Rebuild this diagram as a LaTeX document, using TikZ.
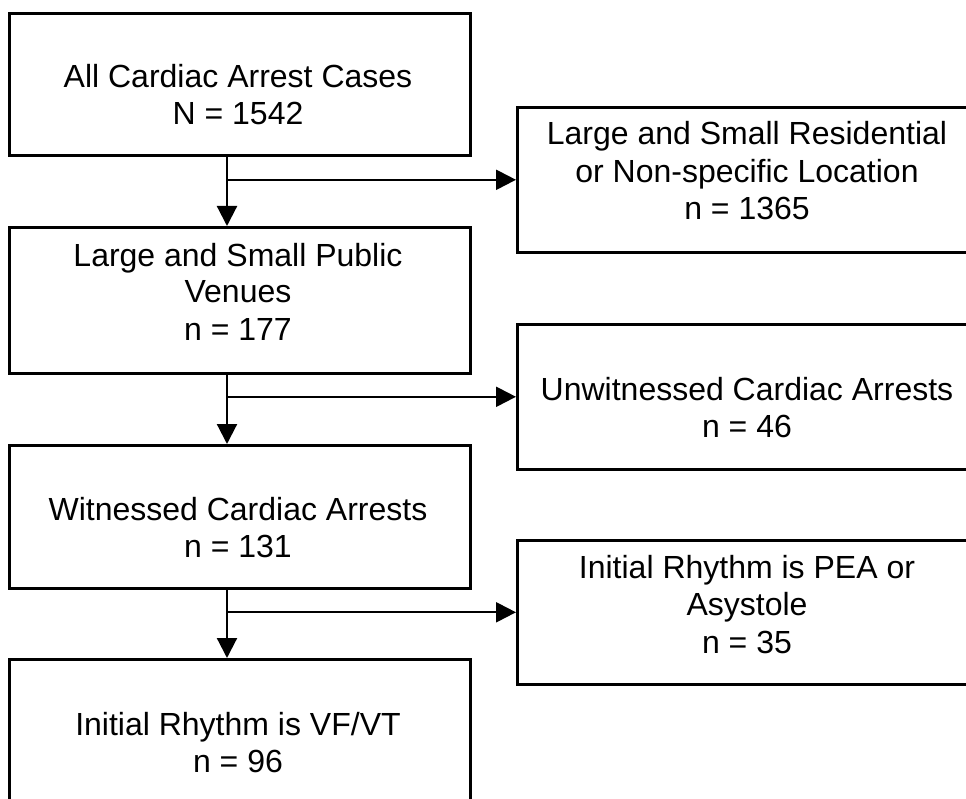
\documentclass[tikz,border=0pt]{standalone}
\usepackage{fontspec}
\setmainfont{Liberation Sans}
\usetikzlibrary{arrows.meta}
\begin{document}
\begin{tikzpicture}[x=1pt,y=-1pt,
  box/.style={draw=black, line width=2.6pt, inner sep=0pt, anchor=north west},
  lbl/.style={anchor=base, font=\fontsize{32}{37.5}\selectfont, inner sep=0pt},
  flow/.style={line width=2.2pt, -{Triangle[length=20pt,width=20pt]}},
]
\useasboundingbox (0,0) rectangle (966,799);
\clip (0,0) rectangle (966,799);

% main column
\node[box, minimum width=461pt, minimum height=142pt] (b1) at (8,12) {};
\node[box, minimum width=461pt, minimum height=146pt] (b2) at (8,226) {};
\node[box, minimum width=461pt, minimum height=143pt] (b3) at (8,444) {};
\node[box, minimum width=461pt, minimum height=170pt] (b4) at (8,658) {};

% excluded cases
\node[box, minimum width=464pt, minimum height=145pt] (r1) at (516,106) {};
\node[box, minimum width=464pt, minimum height=145pt] (r2) at (516,323) {};
\node[box, minimum width=464pt, minimum height=144pt] (r3) at (516,539) {};

% labels
\node[lbl] (t1a) at (238,88) {All Cardiac Arrest Cases};
\node[lbl] (t1b) at (238,125) {N = 1542};

\node[lbl] (u1a) at (747,145) {Large and Small Residential};
\node[lbl] (u1b) at (747,183) {or Non-specific Location};
\node[lbl] (u1c) at (747,220) {n = 1365};

\node[lbl] (t2a) at (238,267) {Large and Small Public};
\node[lbl] (t2b) at (238,303) {Venues};
\node[lbl] (t2c) at (238,341) {n = 177};

\node[lbl] (u2a) at (747,400) {Unwitnessed Cardiac Arrests};
\node[lbl] (u2b) at (747,437) {n = 46};

\node[lbl] (t3a) at (238,520) {Witnessed Cardiac Arrests};
\node[lbl] (t3b) at (238,557) {n = 131};

\node[lbl] (u3a) at (747,578) {Initial Rhythm is PEA or};
\node[lbl] (u3b) at (747,615) {Asystole};
\node[lbl] (u3c) at (747,653) {n = 35};

\node[lbl] (t4a) at (238,735) {Initial Rhythm is VF/VT};
\node[lbl] (t4b) at (238,772) {n = 96};

% branch points
\coordinate (j1) at (227,0 |- r1.west);
\coordinate (j2) at (227,0 |- r2.west);
\coordinate (j3) at (227,0 |- r3.west);

% connectors
\draw[flow] (b1.south -| j1) -- (b2.north -| j1);
\draw[flow] (j1) -- (r1.west);
\draw[flow] (b2.south -| j2) -- (b3.north -| j2);
\draw[flow] (j2) -- (r2.west);
\draw[flow] (b3.south -| j3) -- (b4.north -| j3);
\draw[flow] (j3) -- (r3.west);
\end{tikzpicture}
\end{document}
